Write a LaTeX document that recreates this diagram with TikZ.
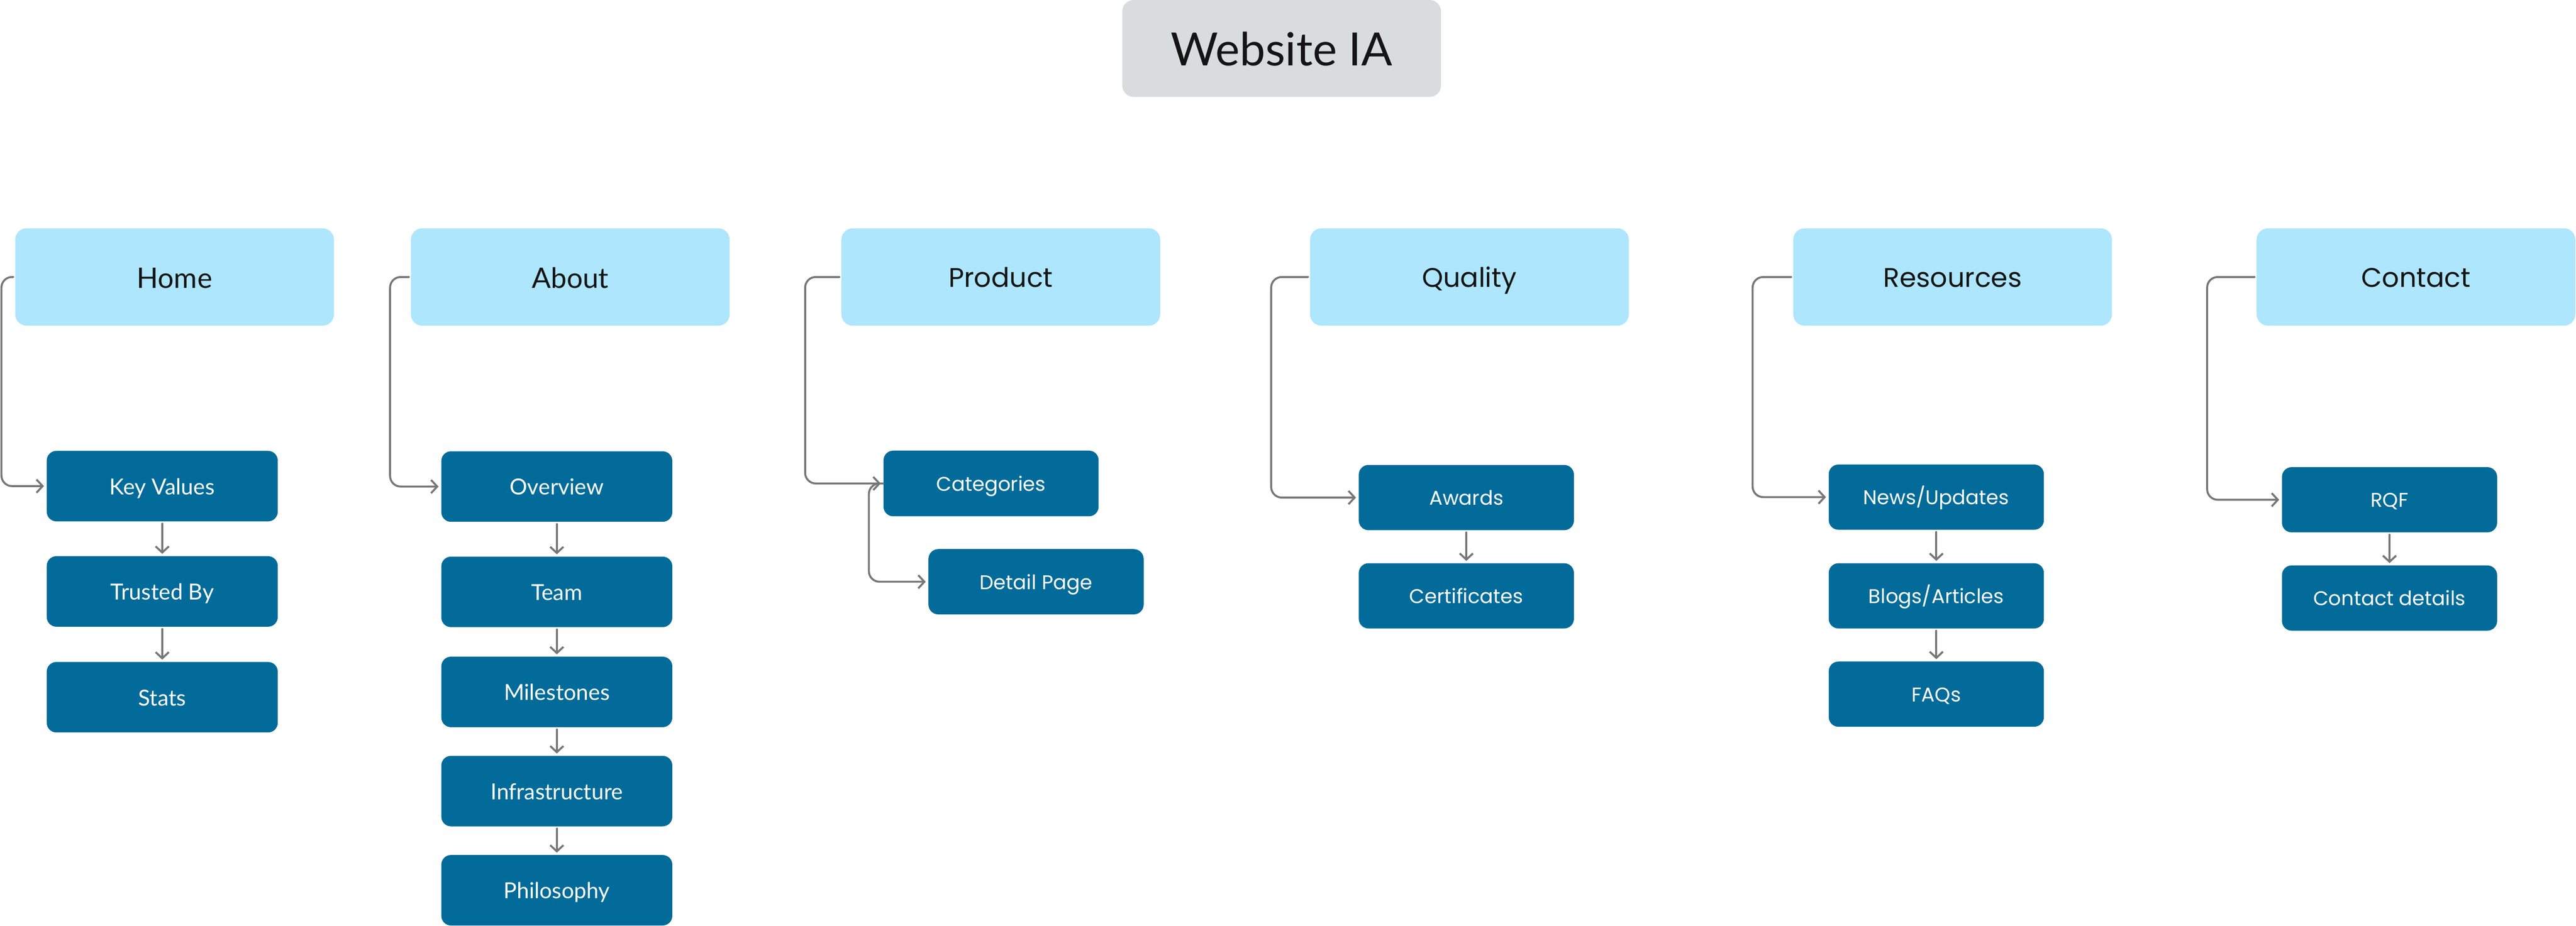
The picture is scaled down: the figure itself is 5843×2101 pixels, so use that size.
\documentclass[tikz,border=0pt]{standalone}
\usepackage{fontspec}
\newfontfamily\latof{Lato}
\newfontfamily\popf{Poppins}
\usetikzlibrary{arrows.meta}
\definecolor{lightblue}{HTML}{ADE6FD}
\definecolor{darkblue}{HTML}{026B9A}
\definecolor{titlegray}{HTML}{D9DCDC}
\definecolor{conngray}{HTML}{777777}
\definecolor{txtblack}{HTML}{141414}
\tikzset{
  titlebox/.style={rectangle, rounded corners=26pt, fill=titlegray, text=txtblack,
    minimum width=723pt, minimum height=220pt, inner sep=0pt,
    font=\latof\fontsize{104pt}{110pt}\selectfont, text height=78pt, text depth=0pt},
  topL/.style={rectangle, rounded corners=26pt, fill=lightblue, text=txtblack,
    minimum width=723pt, minimum height=221pt, inner sep=0pt,
    font=\latof\fontsize{64pt}{70pt}\selectfont, text height=50pt, text depth=0pt},
  topP/.style={rectangle, rounded corners=26pt, fill=lightblue, text=txtblack,
    minimum width=723pt, minimum height=221pt, inner sep=0pt,
    font=\popf\fontsize{61pt}{66pt}\selectfont, text height=47pt, text depth=0pt},
  childL/.style={rectangle, rounded corners=22pt, fill=darkblue, text=white,
    minimum width=524pt, minimum height=160pt, inner sep=0pt,
    font=\latof\fontsize{50pt}{56pt}\selectfont, text height=38pt, text depth=0pt},
  childP/.style={rectangle, rounded corners=22pt, fill=darkblue, text=white,
    minimum width=488pt, minimum height=148pt, inner sep=0pt,
    font=\popf\fontsize{45pt}{50pt}\selectfont, text height=34pt, text depth=0pt},
  conn/.style={draw=conngray, line width=4.5pt, line cap=round, rounded corners=24pt,
    -{Straight Barb[length=14pt,width=30pt]}, shorten >=6pt, shorten <=4pt},
  downarr/.style={draw=conngray, line width=4.5pt, line cap=round,
    -{Straight Barb[length=14pt,width=30pt]}, shorten >=5pt, shorten <=5pt}
}
\begin{document}
\begin{tikzpicture}[x=1pt,y=-1pt]
\useasboundingbox (0,0) rectangle (5843,2101);
% title
\node[titlebox] (title) at (2907,110) {Website IA};
% top level
\node[topL] (home) at (396,628.5) {Home};
\node[topL] (about) at (1293.5,628.5) {About};
\node[topP] (product) at (2270,628.5) {Product};
\node[topP] (quality) at (3333,628.5) {Quality};
\node[topP] (resources) at (4429,628.5) {Resources};
\node[topP] (contact) at (5480,628.5) {Contact};
% home children
\node[childL] (kv) at (368,1103) {Key Values};
\node[childL] (tb) at (368,1342) {Trusted By};
\node[childL] (stats) at (368,1582) {Stats};
% about children
\node[childL] (ov) at (1263,1104) {Overview};
\node[childL] (team) at (1263,1343) {Team};
\node[childL] (ms) at (1263,1570) {Milestones};
\node[childL] (infra) at (1263,1795) {Infrastructure};
\node[childL] (phil) at (1263,2020) {Philosophy};
% product children
\node[childP, minimum height=149pt] (cat) at (2248,1097) {Categories};
\node[childP] (dp) at (2350,1320) {Detail Page};
% quality children
\node[childP] (aw) at (3326,1129) {Awards};
\node[childP] (cert) at (3326,1352) {Certificates};
% resources children
\node[childP] (news) at (4392,1128) {News/Updates};
\node[childP] (blogs) at (4392,1352) {Blogs/Articles};
\node[childP] (faq) at (4392,1575) {FAQs};
% contact children
\node[childP] (rqf) at (5420,1134) {RQF};
\node[childP] (cd) at (5420,1357) {Contact details};
% parent to first child connectors
\draw[conn] (home.west) -- ++(-31,0) |- (kv.west);
\draw[conn] (about.west) -- ++(-47,0) |- (ov.west);
\draw[conn] (product.west) -- ++(-82,0) |- (cat.west);
\draw[conn, shorten <=0pt] (cat.west) -- ++(-33,0) |- (dp.west);
\draw[conn] (quality.west) -- ++(-88,0) |- (aw.west);
\draw[conn] (resources.west) -- ++(-92,0) |- (news.west);
\draw[conn] (contact.west) -- ++(-112,0) |- (rqf.west);
% vertical arrows
\draw[downarr] (kv.south) -- (tb.north);
\draw[downarr] (tb.south) -- (stats.north);
\draw[downarr] (ov.south) -- (team.north);
\draw[downarr] (team.south) -- (ms.north);
\draw[downarr] (ms.south) -- (infra.north);
\draw[downarr] (infra.south) -- (phil.north);
\draw[downarr] (aw.south) -- (cert.north);
\draw[downarr] (news.south) -- (blogs.north);
\draw[downarr] (blogs.south) -- (faq.north);
\draw[downarr] (rqf.south) -- (cd.north);
\end{tikzpicture}
\end{document}
